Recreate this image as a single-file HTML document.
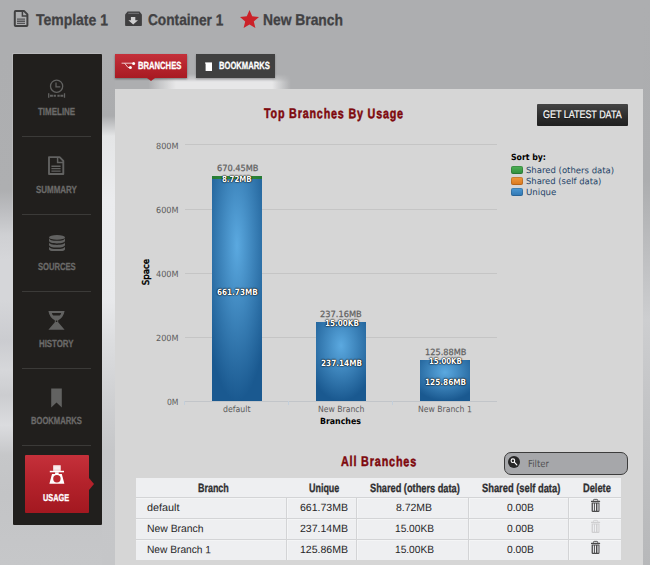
<!DOCTYPE html>
<html lang="en">
<head>
<meta charset="utf-8">
<title>Usage - Top Branches</title>
<style>

html,body{margin:0;padding:0}
body{width:650px;height:565px;overflow:hidden;position:relative;display:flow-root;background:#adaeb0;font-family:"Liberation Sans",sans-serif}
a{color:inherit;text-decoration:none}
h2,ul,li,figure,p{margin:0;padding:0;list-style:none}
.t{position:absolute;white-space:nowrap;line-height:1;transform-origin:0 0;display:block;margin:0;padding:0;font-weight:normal}
.ls{font-family:"Liberation Sans",sans-serif}
.dv{font-family:"DejaVu Sans","Liberation Sans",sans-serif}
.b{font-weight:bold}
.ls.b{-webkit-text-stroke:.3px}
.st{-webkit-text-stroke:.25px}
.st2{-webkit-text-stroke:.45px}
.ls.b.ttl{-webkit-text-stroke:.5px}
.abs{position:absolute}
svg{display:block}
/* ---- page background (cloudy grey) ---- */
#bgL{position:absolute;left:0;top:54px;width:102px;height:511px;background:linear-gradient(180deg,#adaeb0 0px,#aeafb1 136px,#bcbdc0 156px,#cfd0d3 181px,#d5d6d9 206px,#d5d6d9 246px,#cbccd0 286px,#d6d7da 316px,#cccdd0 341px,#dbdcdf 371px,#c6c7c9 401px,#c3c4c6 440px,#c6c7c9 511px)}
#bgM{position:absolute;left:102px;top:54px;width:13px;height:511px;background:linear-gradient(180deg,#adaeb0 0px,#abacae 62px,#e4e5e6 82px,#ebecee 146px,#e8e9eb 246px,#dcdddf 286px,#cfd0d2 346px,#c6c7c9 396px,#c5c6c8 511px)}
#bgR{position:absolute;left:643px;top:0;width:7px;height:565px;background:linear-gradient(180deg,#adaeb0 0px,#acadaf 180px,#bfc0c2 260px,#cdced0 320px,#c4c5c7 400px,#b7b8ba 565px)}
#cloud{position:absolute;left:148px;top:74px;width:147px;height:15px;background:linear-gradient(90deg,rgba(231,231,232,0) 0px,rgba(231,231,232,.45) 12px,rgba(231,231,232,1) 28px,rgba(231,231,232,1) 124px,rgba(231,231,232,0) 143px);-webkit-mask-image:linear-gradient(180deg,rgba(0,0,0,0) 0px,rgba(0,0,0,.5) 5px,#000 8px);mask-image:linear-gradient(180deg,rgba(0,0,0,0) 0px,rgba(0,0,0,.5) 5px,#000 8px)}
/* ---- sidebar ---- */
#side{position:absolute;left:13px;top:54px;width:89px;height:471px;background:#211f1d;box-shadow:-1px -1px 0 rgba(215,215,217,.28);border-radius:1px}
.sep{position:absolute;left:22px;width:69px;height:1px;background:#3b3a38}
#usage{position:absolute;left:25px;top:455px;width:64px;height:58px;border-radius:1px;background:linear-gradient(180deg,#c5303a 0%,#b3222b 50%,#a31820 100%)}
#usage:after{content:"";position:absolute;left:64px;top:23px;border-left:5.5px solid #b3222b;border-top:6.5px solid transparent;border-bottom:6.5px solid transparent}
/* ---- tabs ---- */
#tab1{position:absolute;left:115px;top:54px;width:72px;height:24px;box-shadow:0 1px 2px rgba(0,0,0,.4);background:linear-gradient(180deg,#c4303a 0%,#a81a22 100%)}
#tab1:after{content:"";position:absolute;left:32px;top:24px;border-top:3px solid #a81a22;border-left:4px solid transparent;border-right:4px solid transparent}
#tab2{position:absolute;left:196px;top:54px;width:79px;height:24px;box-shadow:0 1px 2px rgba(0,0,0,.25);background:#404040}
/* ---- main panel ---- */
#panel{position:absolute;left:115px;top:89px;width:528px;height:476px;background:#d6d6d6;z-index:-1}
#getbtn{position:absolute;left:537px;top:104px;width:91px;height:22px;border:0;padding:0;margin:0;background:linear-gradient(180deg,#454545 0%,#2d2d2d 55%,#202020 100%);border-radius:1px;overflow:visible}
.grid{position:absolute;left:185px;width:312px;height:1px;background:#c5c5c5}
.grid.axis{background:#c2c5c9}
.tick{position:absolute;top:401px;width:1px;height:4px;background:#c3cfdb}
.bar{position:absolute;background:radial-gradient(ellipse 70% 70% at 50% 30%,#5ba9e0 0%,#1a5990 100%)}
.bar.g{background:linear-gradient(90deg,#267a33,#35973f 50%,#267a33)}
.sw{position:absolute;left:511px;width:12px;height:8px;border-radius:2px;box-shadow:inset 0 0 0 1px rgba(0,0,0,.16)}
.sh{text-shadow:0 0 2px #000,0 0 1px #000,0 0 1px rgba(0,0,0,.7)}
#filter{position:absolute;left:504px;top:452px;width:122px;height:21px;border:1px solid #3c3c3c;border-radius:7px;background:#a6a7aa}
/* ---- table ---- */
#tbl{margin:478px 0 0 136px;width:485px;table-layout:fixed;border-collapse:separate;border-spacing:0;background:#eeeff1}
#tbl th,#tbl td{padding:0;margin:0;height:20px;font-size:0;line-height:0}
#tbl th{height:19px}
#tbl td{border-top:1px solid #d3d4d6;box-shadow:inset 0 1px 0 #f3f4f5}
#tbl td+td{box-shadow:inset 1px 1px 0 #f4f5f6}
#tbl td:not(:last-child){border-right:1px solid #d3d4d6}

</style>
</head>
<body>
<div id="bgL"></div><div id="bgM"></div><div id="bgR"></div><div id="cloud"></div>
<header>
<a class="crumb"><svg class="abs" style="left:12px;top:9px" width="18" height="20" viewBox="12 9 18 20"><path d="M15.6 11.1h8.6l3.2 3.3v10.9q0 .8-.8.8h-11q-.8 0-.8-.8v-13.4q0-.8.8-.8z" fill="none" stroke="#414142" stroke-width="2" stroke-linejoin="round"/><path d="M22.4 10.6v5.4h5.6" fill="none" stroke="#414142" stroke-width="1.5"/><path d="M17 19.1h8M17 21.3h8M17 23.4h8" stroke="#555557" stroke-width="1.4"/></svg><span class="t ls b" style="left:35.60px;top:11.85px;font-size:15.60px;color:#414143;transform:rotate(0.15deg) scale(0.8962,1.000);">Template 1</span></a>
<a class="crumb"><svg class="abs" style="left:124px;top:10px" width="19" height="17" viewBox="124 10 19 17"><path d="M127.6 11.4h11.9l2.4 3.2v10.6q0 .8-.8.8h-15.2q-.8 0-.8-.8v-10.6z" fill="#3f3f40"/><path d="M128.2 12.8h10.8v1h-10.8z" fill="#78797b"/><path d="M130.9 17h4.4v3.2h2.7l-4.8 4.3-4.8-4.3h2.5z" fill="#cfcfd0"/></svg><span class="t ls b" style="left:147.60px;top:11.85px;font-size:15.60px;color:#414143;transform:rotate(0.15deg) scale(0.8786,1.000);">Container 1</span></a>
<a class="crumb"><svg class="abs" style="left:240px;top:10px" width="19" height="18" viewBox="0 0 19 18"><path d="M9.5 0l2.7 6.3 6.8.6-5.2 4.5 1.6 6.600-5.900-3.600-5.900 3.600 1.600-6.600-5.200-4.500 6.800-.6z" fill="#cb2229"/></svg><span class="t ls b" style="left:263.00px;top:11.85px;font-size:15.60px;color:#414143;transform:rotate(0.15deg) scale(0.8873,1.000);">New Branch</span></a>
</header>
<nav>
<div id="side"></div>
<a class="item"><svg class="abs" style="left:46px;top:78px" width="22" height="22" viewBox="46 78 22 22"><circle cx="56.6" cy="86.2" r="6.1" fill="none" stroke="#626261" stroke-width="1.3"/><path d="M56 82.4v4.5h4.3" fill="none" stroke="#626261" stroke-width="1.25"/><path d="M48.7 93.2v4.6M64.5 93.2v4.6" stroke="#626261" stroke-width="1.3"/><path d="M50 95.7h2.9M53.6 95.7h2.3M57.4 95.7h2.3M60.4 95.7h2.9" stroke="#626261" stroke-width="2"/></svg><span class="t ls b" style="left:38.00px;top:106.80px;font-size:10.30px;color:#6b6a69;transform:rotate(0.15deg) scale(0.7739,1.000);">TIMELINE</span></a>
<div class="sep" style="top:136px"></div>
<a class="item"><svg class="abs" style="left:46px;top:154px" width="20" height="23" viewBox="46 154 20 23"><path d="M49 157.1h10.6l3.7 3.8v13.1h-14.3z" fill="none" stroke="#626261" stroke-width="1.9" stroke-linejoin="round"/><path d="M57.6 157v5.4h5.6" fill="none" stroke="#626261" stroke-width="1.5"/><path d="M51.4 166.2h9.2M51.4 168.6h9.2M51.4 171.1h9.2" stroke="#626261" stroke-width="1.4"/></svg><span class="t ls b" style="left:35.70px;top:184.60px;font-size:10.30px;color:#6b6a69;transform:rotate(0.15deg) scale(0.7741,1.000);">SUMMARY</span></a>
<div class="sep" style="top:214px"></div>
<a class="item"><svg class="abs" style="left:49px;top:235px" width="16" height="16" viewBox="0 0 16 16"><path d="M0 3.2v2.6c0 1.700 3.600 2.600 8 2.600s8-.9 8-2.600v-2.600c0 1.700-3.600 2.600-8 2.600s-8-.9-8-2.600z" fill="#626261"/><path d="M0 7.3v2.6c0 1.700 3.600 2.600 8 2.600s8-.9 8-2.600v-2.600c0 1.700-3.600 2.600-8 2.600s-8-.9-8-2.600z" fill="#626261"/><path d="M0 11.4v2.6c0 1.700 3.600 2.600 8 2.600s8-.9 8-2.600v-2.600c0 1.700-3.600 2.600-8 2.600s-8-.9-8-2.600z" fill="#626261"/><ellipse cx="8" cy="2.4" rx="8" ry="2.4" fill="#626261"/></svg><span class="t ls b" style="left:37.50px;top:261.60px;font-size:10.30px;color:#6b6a69;transform:rotate(0.15deg) scale(0.7401,1.000);">SOURCES</span></a>
<div class="sep" style="top:291px"></div>
<a class="item"><svg class="abs" style="left:47px;top:310px" width="19" height="21" viewBox="47 310 19 21"><path d="M48.4 311.1h16.2q-1.2 6.600-6.400 9.200v1.900l6.400 7.500h-16.200l6.400-7.500v-1.900q-5.200-2.600-6.400-9.200z" fill="#626261"/><path d="M51.900 313.100h9.200q-.2 1.700-1.400 2.300h-6.400q-1.200-.6-1.400-2.300z" fill="#211f1d"/><rect x="55.8" y="320.5" width="1.5" height="1.5" fill="#211f1d"/></svg><span class="t ls b" style="left:39.10px;top:338.60px;font-size:10.30px;color:#6b6a69;transform:rotate(0.15deg) scale(0.7630,1.000);">HISTORY</span></a>
<div class="sep" style="top:368px"></div>
<a class="item"><svg class="abs" style="left:50.5px;top:387.5px" width="12" height="20" viewBox="0 0 12 20"><path d="M0.2 0.600h10.600v19l-5.300-5.200-5.300 5.200z" fill="#626261"/></svg><span class="t ls b" style="left:31.30px;top:415.80px;font-size:10.30px;color:#6b6a69;transform:rotate(0.15deg) scale(0.7398,1.000);">BOOKMARKS</span></a>
<div class="sep" style="top:445px"></div>
<a class="item active" id="usage"><svg class="abs" style="left:23px;top:9px" width="18" height="21" viewBox="48 464 18 21"><path d="M53.2 465.3h7.500v5.500h-7.500z" fill="#fff"/><path d="M53.2 466.700h7.500M53.200 468.100h7.500M53.200 469.500h7.500" stroke="#e9b9bc" stroke-width=".4"/><path d="M49.800 470.800h14.200v1.500h-14.200z" fill="#fff"/><path d="M55.100 472.300h3.600v1.700h-3.600z" fill="#fff"/><path d="M52 473.900h9.800l2.600 9.900h-15z" fill="#fff"/><circle cx="56.900" cy="478.700" r="3.700" fill="#ba2830"/></svg><span class="t ls b" style="left:18.20px;top:38.25px;font-size:10.00px;color:#fff;transform:rotate(0.15deg) scale(0.7339,1.000);">USAGE</span></a>
</nav>
<div class="tabs">
<a id="tab1"><svg class="abs" style="left:5.5px;top:7px" width="15" height="9" viewBox="0 0 15 9"><path d="M0.6 2.2h11M3.6 2.2l3.400 4.300h2" fill="none" stroke="#f6dcde" stroke-width=".9"/><circle cx="12.6" cy="2.4" r="1.5" fill="#fff"/><circle cx="9.4" cy="6.6" r="1.5" fill="#fff"/></svg><span class="t ls b" style="left:22.60px;top:6.75px;font-size:10.40px;color:#fff;transform:rotate(0.15deg) scale(0.7364,1.000);">BRANCHES</span></a>
<a id="tab2"><svg class="abs" style="left:8.5px;top:8px" width="8" height="9.2" viewBox="0 0 8 9.2"><path d="M0.6 0.4h6.400v8.600h-6.400z" fill="#fff"/><path d="M0 0.4h1v1.400h-1z" fill="#ddd"/></svg><span class="t ls b" style="left:22.50px;top:6.75px;font-size:10.40px;color:#fff;transform:rotate(0.15deg) scale(0.7327,1.000);">BOOKMARKS</span></a>
</div>
<main>
<div id="panel"></div>
<h2 class="t ls b ttl" style="left:263.90px;top:106.15px;font-size:14.00px;color:#7e080d;transform:rotate(0.15deg) scale(0.7642,1.000);letter-spacing:1.10px;">Top Branches By Usage</h2>
<button id="getbtn" type="button"><span class="t ls" style="left:6.00px;top:4.95px;font-size:11.00px;color:#fff;transform:rotate(0.15deg) scale(0.8131,1.000);text-shadow:0 1px 1px rgba(0,0,0,.6);-webkit-text-stroke:.2px;">GET LATEST DATA</span></button>
<figure class="chart">
<div class="grid" style="top:144px"></div>
<span class="t dv" style="left:156.00px;top:141.90px;font-size:8.50px;color:#5c5c5c;transform:rotate(0.15deg) scale(0.9551,1.000);">800M</span>
<div class="grid" style="top:209px"></div>
<span class="t dv" style="left:156.00px;top:205.90px;font-size:8.50px;color:#5c5c5c;transform:rotate(0.15deg) scale(0.9551,1.000);">600M</span>
<div class="grid" style="top:273px"></div>
<span class="t dv" style="left:156.00px;top:269.90px;font-size:8.50px;color:#5c5c5c;transform:rotate(0.15deg) scale(0.9551,1.000);">400M</span>
<div class="grid" style="top:337px"></div>
<span class="t dv" style="left:156.00px;top:333.90px;font-size:8.50px;color:#5c5c5c;transform:rotate(0.15deg) scale(0.9551,1.000);">200M</span>
<div class="grid axis" style="top:401px"></div>
<span class="t dv" style="left:167.00px;top:397.90px;font-size:8.50px;color:#5c5c5c;transform:rotate(0.15deg) scale(0.9025,1.000);">0M</span>
<div class="tick" style="left:184px"></div>
<div class="tick" style="left:288px"></div>
<div class="tick" style="left:392px"></div>
<span class="t dv st2" style="left:145.60px;top:272.40px;font-size:9.00px;color:#000;transform-origin:50% 50%;transform:translate(-50%,-50%) rotate(-90deg) scaleX(0.9589);">Space</span>
<div class="bar" style="left:212px;top:179px;width:50px;height:222px"></div>
<div class="bar g" style="left:212px;top:176px;width:50px;height:3px"></div>
<div class="bar" style="left:316px;top:322px;width:50px;height:79px"></div>
<div class="bar" style="left:420px;top:360px;width:50px;height:41px"></div>
<span class="t dv st" style="left:216.80px;top:164.40px;font-size:8.50px;color:#626262;transform:rotate(0.15deg) scale(0.9672,1.000);">670.45MB</span>
<span class="t dv b sh" style="left:221.90px;top:174.50px;font-size:8.50px;color:#fff;transform:rotate(0.15deg) scale(0.8271,1.000);">8.72MB</span>
<span class="t dv b sh" style="left:216.80px;top:288.10px;font-size:8.50px;color:#fff;transform:rotate(0.15deg) scale(0.8526,1.000);">661.73MB</span>
<span class="t dv st" style="left:320.00px;top:310.20px;font-size:8.50px;color:#626262;transform:rotate(0.15deg) scale(0.9719,1.000);">237.16MB</span>
<span class="t dv b sh" style="left:324.90px;top:319.20px;font-size:8.50px;color:#fff;transform:rotate(0.15deg) scale(0.8485,1.000);">15.00KB</span>
<span class="t dv b sh" style="left:320.70px;top:359.10px;font-size:8.50px;color:#fff;transform:rotate(0.15deg) scale(0.8589,1.000);">237.14MB</span>
<span class="t dv st" style="left:425.00px;top:347.90px;font-size:8.50px;color:#626262;transform:rotate(0.15deg) scale(0.9649,1.000);">125.88MB</span>
<span class="t dv b sh" style="left:429.00px;top:357.10px;font-size:8.50px;color:#fff;transform:rotate(0.15deg) scale(0.8235,1.000);">15.00KB</span>
<span class="t dv b sh" style="left:424.60px;top:378.20px;font-size:8.50px;color:#fff;transform:rotate(0.15deg) scale(0.8631,1.000);">125.86MB</span>
<span class="t dv" style="left:223.00px;top:404.90px;font-size:8.50px;color:#5c5c5c;transform:rotate(0.15deg) scale(0.9195,1.000);">default</span>
<span class="t dv" style="left:317.80px;top:404.90px;font-size:8.50px;color:#5c5c5c;transform:rotate(0.15deg) scale(0.9077,1.000);">New Branch</span>
<span class="t dv" style="left:418.00px;top:404.90px;font-size:8.50px;color:#5c5c5c;transform:rotate(0.15deg) scale(0.9084,1.000);">New Branch 1</span>
<span class="t dv b" style="left:320.30px;top:416.50px;font-size:8.50px;color:#000;transform:rotate(0.15deg) scale(0.9217,1.000);">Branches</span>
<ul class="legend">
<li class="t dv b" style="left:510.90px;top:153.00px;font-size:8.50px;color:#000;transform:rotate(0.15deg) scale(0.9162,1.000);">Sort by:</li>
<li><i class="sw" style="top:166px;background:linear-gradient(180deg,#4fb257,#2f8d3a)"></i><span class="t dv" style="left:526.40px;top:165.60px;font-size:8.50px;color:#1f4468;transform:rotate(0.15deg) scale(0.9991,1.000);">Shared (others data)</span></li>
<li><i class="sw" style="top:177px;background:linear-gradient(180deg,#f09a3e,#d9761c)"></i><span class="t dv" style="left:526.40px;top:176.60px;font-size:8.50px;color:#1f4468;transform:rotate(0.15deg) scale(0.9905,1.000);">Shared (self data)</span></li>
<li><i class="sw" style="top:188px;background:linear-gradient(180deg,#4e9ad4,#2f76b2)"></i><span class="t dv" style="left:526.40px;top:187.60px;font-size:8.50px;color:#1f4468;transform:rotate(0.15deg) scale(1.0139,1.000);">Unique</span></li>
</ul>
</figure>
<h2 class="t ls b ttl" style="left:341.00px;top:454.15px;font-size:14.00px;color:#7e080d;transform:rotate(0.15deg) scale(0.7698,1.000);letter-spacing:1.10px;">All Branches</h2>
<div id="filter"><svg class="abs" style="left:3px;top:2.6px" width="12" height="12" viewBox="0 0 12 12"><circle cx="6" cy="6" r="6" fill="#262626"/><circle cx="4.9" cy="4.7" r="1.8" fill="none" stroke="#fff" stroke-width="1.1"/><path d="M6.3 6.2l2.500 2.700" stroke="#fff" stroke-width="1.2" stroke-linecap="round"/></svg><span class="t dv" style="left:22.60px;top:6.05px;font-size:9.60px;color:#505052;transform:rotate(0.15deg) scale(0.8790,1.000);">Filter</span></div>
<table id="tbl"><colgroup><col style="width:151px"><col style="width:70px"><col style="width:112px"><col style="width:100px"><col style="width:52px"></colgroup><thead><tr><th><span class="t ls b" style="left:197.60px;top:482.05px;font-size:12.00px;color:#2e2e30;transform:rotate(0.15deg) scale(0.7450,1.000);">Branch</span></th><th><span class="t ls b" style="left:308.60px;top:482.05px;font-size:12.00px;color:#2e2e30;transform:rotate(0.15deg) scale(0.7451,1.000);">Unique</span></th><th><span class="t ls b" style="left:369.90px;top:482.05px;font-size:12.00px;color:#2e2e30;transform:rotate(0.15deg) scale(0.7695,1.000);">Shared (others data)</span></th><th><span class="t ls b" style="left:481.50px;top:482.05px;font-size:12.00px;color:#2e2e30;transform:rotate(0.15deg) scale(0.7776,1.000);">Shared (self data)</span></th><th><span class="t ls b" style="left:582.50px;top:482.05px;font-size:12.00px;color:#2e2e30;transform:rotate(0.15deg) scale(0.7746,1.000);">Delete</span></th></tr></thead><tbody><tr><td><span class="t ls" style="left:146.70px;top:501.50px;font-size:10.50px;color:#262628;transform:rotate(0.15deg) scale(1.0309,1.000);">default</span></td><td><span class="t ls" style="left:299.50px;top:501.50px;font-size:10.50px;color:#262628;transform:rotate(0.15deg) scale(1.0028,1.000);">661.73MB</span></td><td><span class="t ls" style="left:396.40px;top:501.50px;font-size:10.50px;color:#262628;transform:rotate(0.15deg) scale(0.9948,1.000);">8.72MB</span></td><td><span class="t ls" style="left:506.90px;top:501.50px;font-size:10.50px;color:#262628;transform:rotate(0.15deg) scale(0.9767,1.000);">0.00B</span></td><td><svg class="abs" style="left:590px;top:498px" width="11" height="14" viewBox="590 498 11 14"><path d="M593.4 500.9v-.7q0-.8.8-.8h2.700q.8 0 .8.800v.7" fill="none" stroke="#4b4b4c" stroke-width=".9"/><path d="M591 500.800h9.100v1.200h-9.100z" fill="#4b4b4c"/><path d="M591.600 502.600h7.900v8.100q0 1.200-1.200 1.200h-5.500q-1.200 0-1.200-1.200z" fill="#4b4b4c"/><path d="M592.900 503.600h1v7.100h-1zM594.900 503.600h1.100v7.100h-1.100z" fill="#f0f1f3"/><path d="M597.100 503.600h1.600v7.100h-1.600z" fill="#b9b9bb"/></svg></td></tr><tr><td><span class="t ls" style="left:146.70px;top:522.50px;font-size:10.50px;color:#262628;transform:rotate(0.15deg) scale(0.9896,1.000);">New Branch</span></td><td><span class="t ls" style="left:299.50px;top:522.50px;font-size:10.50px;color:#262628;transform:rotate(0.15deg) scale(1.0028,1.000);">237.14MB</span></td><td><span class="t ls" style="left:395.00px;top:522.50px;font-size:10.50px;color:#262628;transform:rotate(0.15deg) scale(0.9681,1.000);">15.00KB</span></td><td><span class="t ls" style="left:506.90px;top:522.50px;font-size:10.50px;color:#262628;transform:rotate(0.15deg) scale(0.9767,1.000);">0.00B</span></td><td><svg class="abs" style="left:590px;top:519px" width="11" height="14" viewBox="590 498 11 14"><path d="M593.4 500.9v-.7q0-.8.8-.8h2.700q.8 0 .8.800v.7" fill="none" stroke="#cfcfd1" stroke-width=".9"/><path d="M591 500.800h9.100v1.200h-9.100z" fill="#cfcfd1"/><path d="M591.600 502.600h7.900v8.100q0 1.200-1.200 1.200h-5.500q-1.200 0-1.200-1.200z" fill="#cfcfd1"/><path d="M592.900 503.600h1v7.100h-1zM594.900 503.600h1.100v7.100h-1.100z" fill="#f0f1f3"/><path d="M597.100 503.600h1.600v7.100h-1.600z" fill="#e2e2e4"/></svg></td></tr><tr><td><span class="t ls" style="left:146.70px;top:543.50px;font-size:10.50px;color:#262628;transform:rotate(0.15deg) scale(0.9704,1.000);">New Branch 1</span></td><td><span class="t ls" style="left:299.50px;top:543.50px;font-size:10.50px;color:#262628;transform:rotate(0.15deg) scale(1.0028,1.000);">125.86MB</span></td><td><span class="t ls" style="left:395.00px;top:543.50px;font-size:10.50px;color:#262628;transform:rotate(0.15deg) scale(0.9681,1.000);">15.00KB</span></td><td><span class="t ls" style="left:506.90px;top:543.50px;font-size:10.50px;color:#262628;transform:rotate(0.15deg) scale(0.9767,1.000);">0.00B</span></td><td><svg class="abs" style="left:590px;top:540px" width="11" height="14" viewBox="590 498 11 14"><path d="M593.4 500.9v-.7q0-.8.8-.8h2.700q.8 0 .8.800v.7" fill="none" stroke="#4b4b4c" stroke-width=".9"/><path d="M591 500.800h9.100v1.200h-9.100z" fill="#4b4b4c"/><path d="M591.600 502.600h7.900v8.100q0 1.200-1.200 1.200h-5.500q-1.200 0-1.200-1.200z" fill="#4b4b4c"/><path d="M592.900 503.600h1v7.100h-1zM594.900 503.600h1.100v7.100h-1.100z" fill="#f0f1f3"/><path d="M597.100 503.600h1.600v7.100h-1.600z" fill="#b9b9bb"/></svg></td></tr></tbody></table>
</main>
</body>
</html>
